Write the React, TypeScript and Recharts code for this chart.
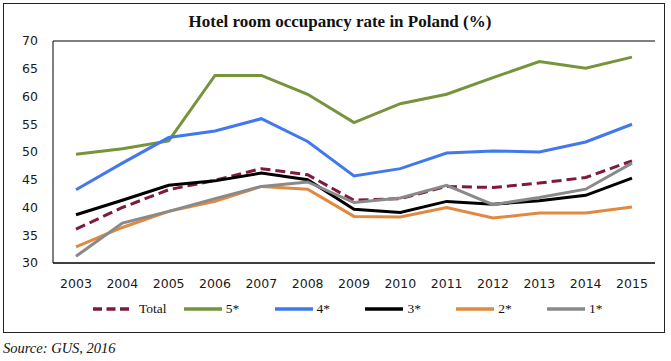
import React from 'react';
import { LineChart, Line, XAxis, YAxis, CartesianGrid } from 'recharts';

const years = ['2003','2004','2005','2006','2007','2008','2009','2010','2011','2012','2013','2014','2015'];
const total = [36.1, 40.0, 43.2, 44.9, 47.0, 45.9, 41.3, 41.6, 43.8, 43.6, 44.4, 45.4, 48.4];
const star5 = [49.6, 50.6, 52.0, 63.8, 63.8, 60.4, 55.3, 58.7, 60.4, 63.4, 66.3, 65.1, 67.1];
const star4 = [43.2, 48.0, 52.6, 53.8, 56.0, 51.9, 45.7, 47.0, 49.8, 50.2, 50.0, 51.8, 55.0];
const star3 = [38.7, 41.3, 44.0, 44.8, 46.2, 45.0, 39.7, 39.1, 41.1, 40.6, 41.2, 42.2, 45.3];
const star2 = [32.9, 36.4, 39.3, 41.1, 43.8, 43.3, 38.4, 38.3, 40.0, 38.1, 39.0, 39.0, 40.1];
const star1 = [31.2, 37.2, 39.3, 41.6, 43.8, 44.6, 40.9, 41.7, 44.0, 40.5, 41.8, 43.3, 48.0];
const yTicks = [30, 35, 40, 45, 50, 55, 60, 65, 70];

const series = [
  { key: 'total', name: 'Total', values: total, color: '#7E1A3F', dash: '10 5' },
  { key: 's5', name: '5*', values: star5, color: '#77933C', dash: undefined },
  { key: 's4', name: '4*', values: star4, color: '#4278EE', dash: undefined },
  { key: 's3', name: '3*', values: star3, color: '#000000', dash: undefined },
  { key: 's2', name: '2*', values: star2, color: '#E0893F', dash: undefined },
  { key: 's1', name: '1*', values: star1, color: '#8A8A8A', dash: undefined },
];

const data = years.map((y, i) => {
  const row: Record<string, string | number> = { year: y };
  series.forEach((s) => { row[s.key] = s.values[i]; });
  return row;
});

const tickStyle = { fontFamily: '"DejaVu Sans", sans-serif', fontSize: 12.5, fill: '#1a1a1a' };

export default function App() {
  return (
    <div style={{ position: 'absolute', left: 0, top: 0, width: 671, height: 361, background: '#fff', overflow: 'hidden' }}>
      <div style={{ position: 'absolute', left: 3, top: 3, width: 660, height: 328, border: '1.5px solid #222' }} />
      <div style={{ position: 'absolute', left: 0, top: 12, width: 680, textAlign: 'center', fontFamily: '"Liberation Serif", serif', fontWeight: 'bold', fontSize: 17, color: '#111' }}>
        Hotel room occupancy rate in Poland (%)
      </div>
      <div style={{ position: 'absolute', left: 0, top: 0 }}>
        <LineChart width={671} height={361} data={data} margin={{ top: 41, right: 16, bottom: 68, left: 3 }}>
          <CartesianGrid vertical={false} stroke="#000" strokeWidth={1} />
          <XAxis dataKey="year" padding={{ left: 23, right: 23 }} tickLine={false} axisLine={{ stroke: '#000' }} tick={tickStyle} tickMargin={10} height={30} interval={0} />
          <YAxis yAxisId="left" domain={[30, 70]} ticks={yTicks} tickLine={false} axisLine={{ stroke: '#000' }} tick={tickStyle} tickMargin={9} width={50} interval={0} />
          <YAxis yAxisId="right" orientation="right" domain={[30, 70]} ticks={yTicks} tick={false} tickLine={false} axisLine={{ stroke: '#000' }} width={0} />
          {series.map((s) => (
            <Line key={s.key} yAxisId="left" type="linear" dataKey={s.key} name={s.name} stroke={s.color} strokeWidth={3} strokeDasharray={s.dash} dot={false} activeDot={false} isAnimationActive={false} />
          ))}
        </LineChart>
      </div>
      <div style={{ position: 'absolute', left: 93, top: 300, display: 'flex', fontFamily: '"Liberation Serif", serif', fontSize: 13.5, color: '#111' }}>
        {series.map((s) => (
          <div key={s.key} style={{ width: 90.8, display: 'flex', alignItems: 'center', height: 18 }}>
            <svg width={38} height={6} style={{ marginRight: s.key === 'total' ? 8 : 4 }}>
              <line x1={0} y1={3} x2={38} y2={3} stroke={s.color} strokeWidth={3.5} strokeDasharray={s.key === 'total' ? '9 4.5' : undefined} />
            </svg>
            <span>{s.name}</span>
          </div>
        ))}
      </div>
      <div style={{ position: 'absolute', left: 3, top: 340, fontFamily: '"Liberation Serif", serif', fontStyle: 'italic', fontSize: 14.5, color: '#111' }}>
        Source: GUS, 2016
      </div>
    </div>
  );
}
